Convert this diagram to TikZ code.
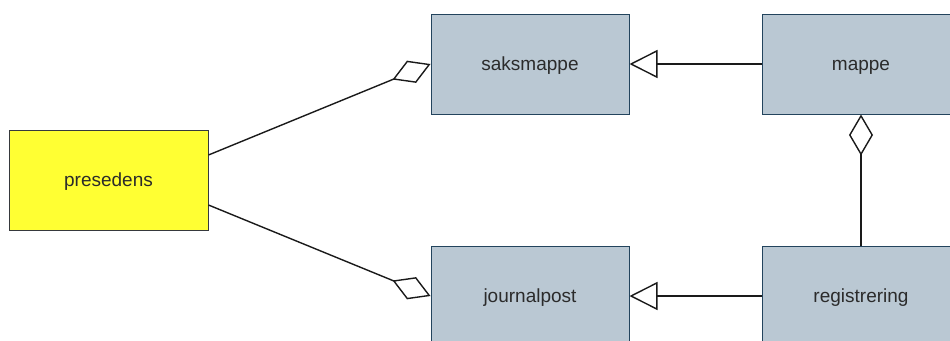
\documentclass[tikz,border=0pt]{standalone}
\usepackage{fontspec}
\setmainfont{Liberation Sans}
\usetikzlibrary{arrows.meta}
\definecolor{boxfill}{HTML}{BAC8D3}
\definecolor{boxdraw}{HTML}{23445D}
\definecolor{yfill}{HTML}{FFFF33}
\definecolor{ydraw}{HTML}{36393D}
\definecolor{txt}{HTML}{2B2B2B}
\definecolor{edge}{HTML}{1A1A1A}
\tikzset{
  cls/.style={draw=boxdraw, fill=boxfill, line width=1pt, minimum width=198pt, minimum height=100pt, inner sep=0pt, text height=15pt, text depth=3pt, text=txt, font=\fontsize{19}{23}\selectfont},
  pres/.style={cls, draw=ydraw, fill=yfill, minimum width=199pt},
  aggr/.style={draw=edge, line width=1.4pt, -{Diamond[open, length=41pt, width=24pt, line width=1.4pt]}},
  gen/.style={draw=edge, line width=1.4pt, -{Triangle[open, length=28pt, width=28pt, line width=1.4pt]}}
}
\begin{document}
\begin{tikzpicture}[x=1pt, y=-1pt]
\useasboundingbox[fill=white] (0,0) rectangle (950,340);
\node[pres] (presedens) at (108.5,180) {presedens};
\node[cls] (saksmappe) at (530,64) {saksmappe};
\node[cls] (mappe) at (861,64) {mappe};
\node[cls] (journalpost) at (530,296) {journalpost};
\node[cls] (registrering) at (861,296) {registrering};
\draw[aggr] ([yshift=25pt]presedens.east) -- (saksmappe.west);
\draw[aggr] ([yshift=-25pt]presedens.east) -- (journalpost.west);
\draw[gen] (mappe.west) -- (saksmappe.east);
\draw[gen] (registrering.west) -- (journalpost.east);
\draw[aggr] (registrering.north) -- (mappe.south);
\end{tikzpicture}
\end{document}
